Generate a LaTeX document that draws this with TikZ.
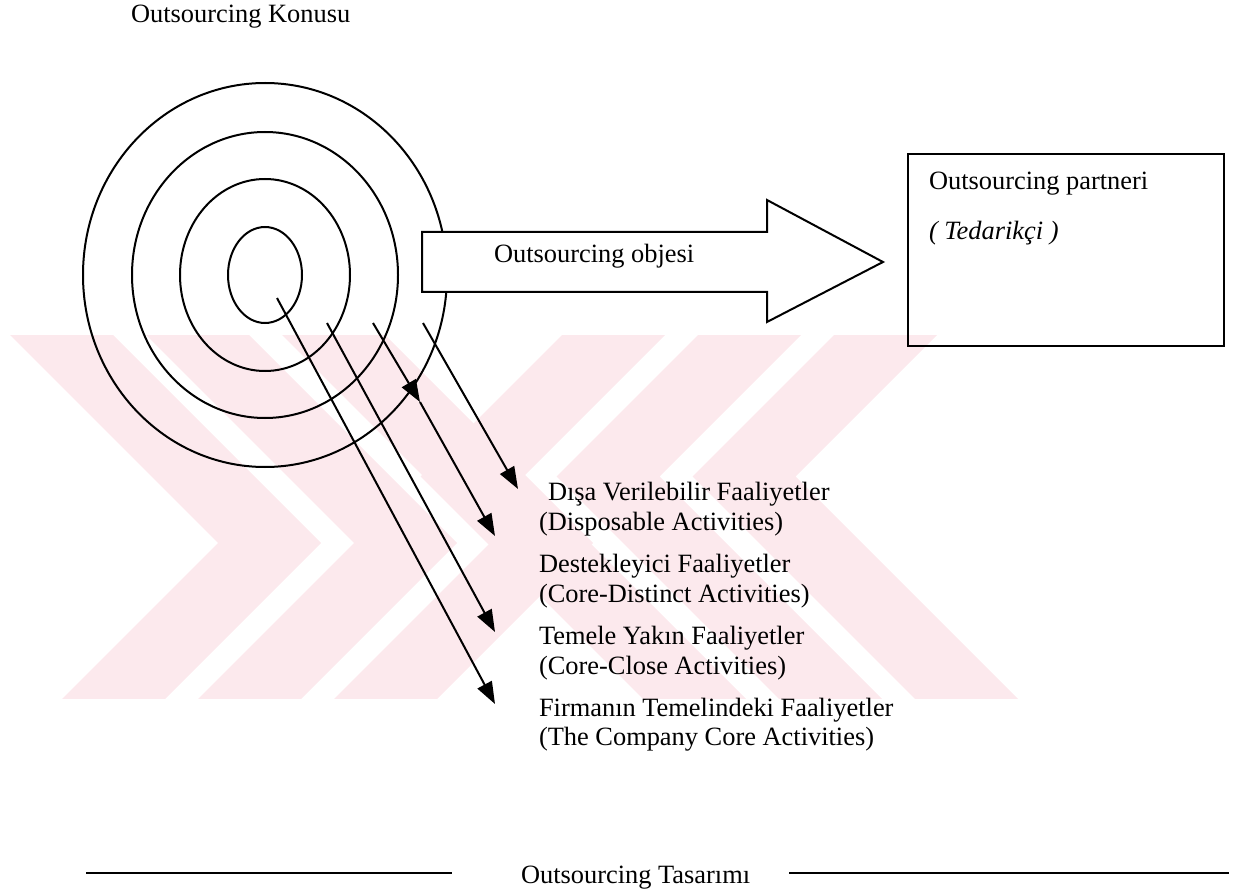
\documentclass[tikz,border=0pt]{standalone}
\usepackage{fontspec}
\setmainfont{Liberation Serif}
\usetikzlibrary{arrows.meta}
\definecolor{wmpink}{RGB}{252,233,237}
\begin{document}
\begin{tikzpicture}[x=0.5pt,y=-0.5pt,line width=1pt,
  lbl/.style={anchor=base west,inner sep=0pt,font=\fontsize{13.2}{15}\selectfont},
  pointer/.style={-{Triangle[length=11pt,width=8pt]}},
  rule/.style={line width=1.4pt},
  chevron/.pic={\fill[wmpink] (-25,300) -- (78,300) -- (321,543) -- (124,740) -- (21,740) -- (218,543) -- cycle;}]
\useasboundingbox (0,0) rectangle (1243,893);

% faint background chevrons
\begin{scope}
  \clip (0,336) rectangle (1243,698);
  \foreach \k in {0,1,2}{
    \fill[wmpink,shift={(136*\k,0)}] (-25,300) -- (78,300) -- (321,543) -- (124,740) -- (21,740) -- (218,543) -- cycle;
    \fill[wmpink,rotate around={180:(506.75,509.75)},shift={(136*\k,0)}] (-25,300) -- (78,300) -- (321,543) -- (124,740) -- (21,740) -- (218,543) -- cycle;
  }
\end{scope}

% title
\node[lbl] (topic) at (130,22.5) {Outsourcing Konusu};

% concentric activity rings
\coordinate (core) at (265,275);
\draw (core) ellipse [x radius=182,y radius=192];
\draw (core) ellipse [x radius=133,y radius=143];
\draw (core) ellipse [x radius=85,y radius=96];
\draw (core) ellipse [x radius=37,y radius=48];

% block arrow towards the partner
\draw[fill=white] (422,232) -- (767,232) -- (767,200) -- (883,262) -- (767,322) -- (767,292) -- (422,292) -- cycle;
\node[lbl] (object) at (493,262.5) {Outsourcing objesi};

% partner box
\node[draw,anchor=north west,minimum width=158pt,minimum height=96pt,inner sep=0pt] (partner) at (907,153) {};
\node[lbl] (ptitle) at (928,190) {Outsourcing partneri};
\node[lbl] (psub) at (928,240) {\itshape ( Tedarikçi )};

% activity labels
\node[lbl] (a1) at (547,500) {Dışa Verilebilir Faaliyetler};
\node[lbl] (a2) at (538,530) {(Disposable Activities)};
\node[lbl] (b1) at (538,572) {Destekleyici Faaliyetler};
\node[lbl] (b2) at (538,602) {(Core-Distinct Activities)};
\node[lbl] (c1) at (538,644) {Temele Yakın Faaliyetler};
\node[lbl] (c2) at (538,674) {(Core-Close Activities)};
\node[lbl] (d1) at (538,716) {Firmanın Temelindeki Faaliyetler};
\node[lbl] (d2) at (538,745) {(The Company Core Activities)};

% pointers from the rings to their labels
\coordinate (s1) at (277,298);
\coordinate (e1) at (495,704);
\coordinate (s2) at (327,323);
\coordinate (e2) at (495,632);
\coordinate (s3) at (373,323);
\coordinate (m3) at (420,402);
\coordinate (e3) at (495,536);
\coordinate (s4) at (423,323);
\coordinate (e4) at (518,489);
\draw[pointer] (s1) -- (e1);
\draw[pointer] (s2) -- (e2);
\draw[pointer] (s3) -- (m3);
\draw[pointer] (m3) -- (e3);
\draw[pointer] (s4) -- (e4);

% footer
\node[lbl] (design) at (520,883) {Outsourcing Tasarımı};
\coordinate (la) at (86,873);
\coordinate (lb) at (452,873);
\coordinate (ra) at (789,873);
\coordinate (rb) at (1229,873);
\draw[rule] (la) -- (lb);
\draw[rule] (ra) -- (rb);
\end{tikzpicture}
\end{document}
